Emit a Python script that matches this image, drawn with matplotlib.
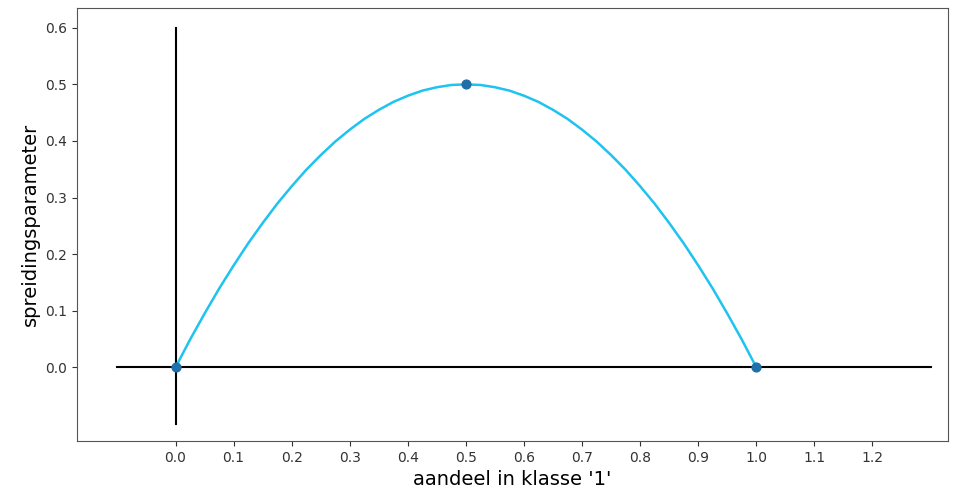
import numpy as np
import matplotlib
matplotlib.use("Agg")
import matplotlib.pyplot as plt

# values
p = [0.0, 0.025, 0.05, 0.075, 0.1, 0.125, 0.15, 0.175, 0.2, 0.225, 0.25,
     0.275, 0.3, 0.325, 0.35, 0.375, 0.4, 0.425, 0.45, 0.475, 0.5,
     0.525, 0.55, 0.575, 0.6, 0.625, 0.65, 0.675, 0.7, 0.725, 0.75,
     0.775, 0.8, 0.825, 0.85, 0.875, 0.9, 0.925, 0.95, 0.975, 1.0]
spreiding = [0.0, 0.049, 0.095, 0.139, 0.18, 0.219, 0.255, 0.289, 0.32, 0.349, 0.375,
             0.399, 0.42, 0.439, 0.455, 0.469, 0.48, 0.489, 0.495, 0.499, 0.5,
             0.499, 0.495, 0.489, 0.48, 0.469, 0.455, 0.439, 0.42, 0.399, 0.375,
             0.349, 0.32, 0.289, 0.255, 0.219, 0.18, 0.139, 0.095, 0.049, 0.0]
punten_x = [0.0, 0.5, 1.0]
punten_y = [0.0, 0.5, 0.0]
xticks = [0.0, 0.1, 0.2, 0.3, 0.4, 0.5, 0.6, 0.7, 0.8, 0.9, 1.0, 1.1, 1.2]
yticks = [0.0, 0.1, 0.2, 0.3, 0.4, 0.5, 0.6]

fig = plt.figure(figsize=(9.6, 5.01), dpi=100)
ax = fig.add_axes([0.080, 0.12, 0.9075, 0.864])

ax.plot([-0.1, 1.3], [0, 0], color="black", lw=1.5)
ax.plot([0, 0], [-0.1, 0.6], color="black", lw=1.5)
ax.plot(p, spreiding, color="#1ec3ef", lw=1.8)
ax.scatter(punten_x, punten_y, color="#1f6fa8", s=40, zorder=3)

ax.set_xlim(-0.17, 1.33)
ax.set_ylim(-0.13, 0.635)
ax.set_xticks(xticks)
ax.set_yticks(yticks)
ax.tick_params(labelsize=10, colors="#333333")
for s in ax.spines.values():
    s.set_color("#555555")

ax.set_xlabel("aandeel in klasse '1'", fontsize=14)
ax.set_ylabel("spreidingsparameter", fontsize=14)

fig.savefig("out.png", dpi=100)
